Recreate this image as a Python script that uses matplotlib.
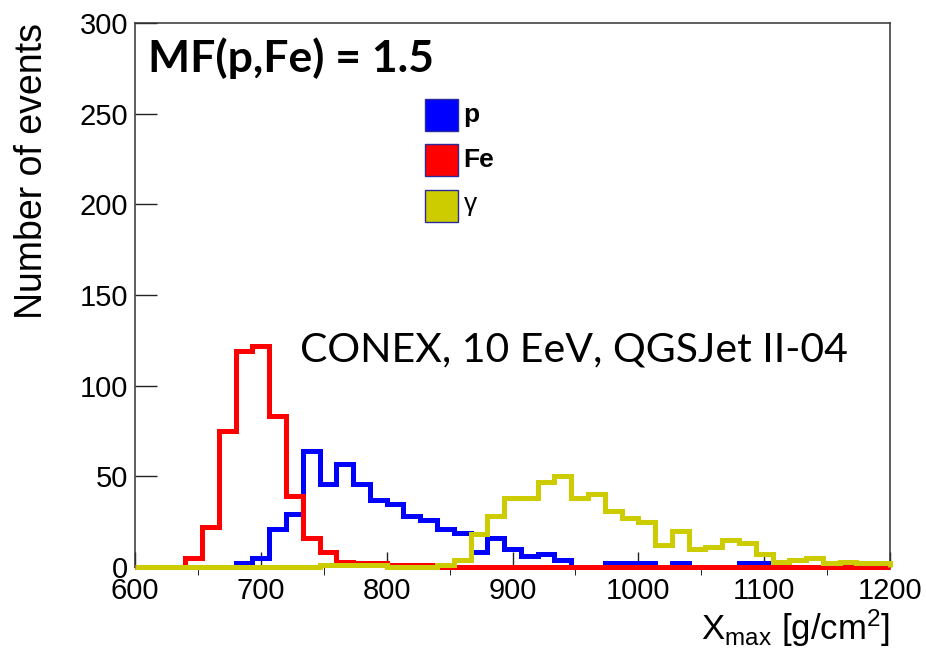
import numpy as np
import matplotlib
matplotlib.use('Agg')
import matplotlib.pyplot as plt
from matplotlib.patches import Rectangle

# === Data: Xmax histograms, 45 bins from 600 to 1200 g/cm^2 ===
X_LO, X_HI, N_BINS = 600, 1200, 45
edges = np.linspace(X_LO, X_HI, N_BINS + 1)

counts_p = [0, 0, 0, 0, 0, 0, 2, 5, 21, 29, 64, 46, 57, 46, 37,
            35, 28, 26, 21, 19, 8, 16, 10, 6, 7, 4, 0, 0, 2, 2,
            2, 0, 2, 0, 0, 0, 2, 2, 0, 0, 0, 0, 0, 0, 0]
counts_fe = [0, 0, 0, 5, 22, 75, 119, 122, 83, 39, 16, 8, 3, 2, 2,
             1, 1, 1, 0, 0, 0, 0, 0, 0, 0, 0, 0, 0, 0, 0,
             0, 0, 0, 0, 0, 0, 0, 0, 0, 0, 0, 0, 0, 0, 0]
counts_gamma = [0, 0, 0, 0, 0, 0, 0, 0, 0, 0, 0, 1, 1, 1, 1,
                0, 0, 0, 1, 4, 18, 28, 38, 38, 47, 50, 38, 40, 31, 27,
                25, 12, 20, 10, 11, 15, 13, 7, 3, 4, 5, 2, 3, 2, 2]

labels = ['p', 'Fe', r'$\gamma$']
colors = ['#0000ff', '#ff0000', '#cccc00']

xticks = [600, 700, 800, 900, 1000, 1100, 1200]
yticks = [0, 50, 100, 150, 200, 250, 300]

W, H = 926, 657
plt.rcParams['font.family'] = ['Liberation Sans', 'DejaVu Sans']
plt.rcParams['mathtext.default'] = 'regular'

fig = plt.figure(figsize=(W / 100, H / 100), dpi=100)
ax = fig.add_axes([135 / W, 1 - 567 / H, (890 - 135) / W, (567 - 23) / H])

# draw order: p, Fe, gamma on top (not clipped, over the frame, like ROOT)
for i, (c, col) in enumerate(zip([counts_p, counts_fe, counts_gamma], colors)):
    ax.stairs(c, edges, color=col, linewidth=3.6, baseline=0,
              clip_on=False, zorder=3 + i)

ax.set_xlim(X_LO, X_HI)
ax.set_ylim(0, 300)
ax.set_xticks(xticks)
ax.set_yticks(yticks)
ax.set_xticks(np.arange(650, 1200, 100), minor=True)
ax.tick_params(axis='both', direction='in', labelsize=21, color='#222222', width=1.0)
ax.tick_params(axis='x', which='major', length=11, pad=7)
ax.tick_params(axis='x', which='minor', length=5.5)
ax.tick_params(axis='y', which='major', length=16, pad=5)
for s in ax.spines.values():
    s.set_color('#333333')
    s.set_linewidth(1.1)

ax.set_ylabel('Number of events', fontsize=27)
ax.yaxis.set_label_coords(-0.112, 1.0)
ax.yaxis.label.set_horizontalalignment('right')
fig.text(890 / W, 1 - 640 / H, r'X$_{max}$ [g/cm$^{2}$]', fontsize=25,
         ha='right', va='baseline')

# legend boxes, drawn by hand like the ROOT TLegend
leg_y = [99, 144, 190]
for lab, col, yp in zip(labels, colors, leg_y):
    fig.add_artist(Rectangle((425 / W, 1 - (yp + 32) / H), 33 / W, 32 / H,
                             transform=fig.transFigure, facecolor=col,
                             edgecolor='#2a2a9a', linewidth=1.0))
    fig.text(463 / W, 1 - (yp + 16) / H, lab, fontsize=19,
             fontweight='bold' if lab != r'$\gamma$' else 'normal',
             ha='left', va='center')

fig.text(148 / W, 1 - 58 / H, 'MF(p,Fe) = 1.5', fontsize=32, fontweight='bold',
         family=['Lato', 'DejaVu Sans'], ha='left', va='center')
fig.text(300 / W, 1 - 350 / H, 'CONEX, 10 EeV, QGSJet II-04', fontsize=29.5,
         family=['Lato', 'DejaVu Sans'], ha='left', va='center')

fig.savefig('out.png', dpi=100)
